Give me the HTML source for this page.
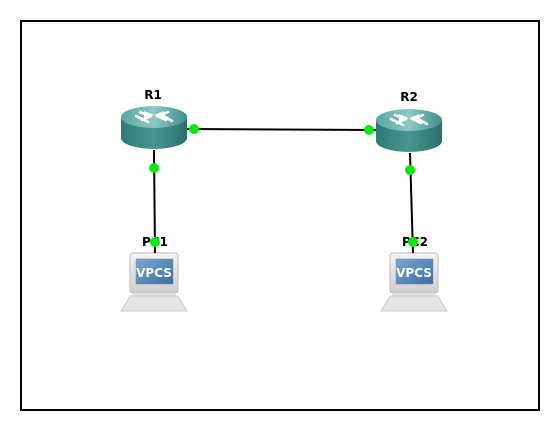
<!DOCTYPE html>
<html><head><meta charset="utf-8"><style>
html,body{margin:0;padding:0;background:#fff;}
svg{display:block;}
text{font-family:"DejaVu Sans","Liberation Sans",sans-serif;font-weight:bold;}
</style></head><body>
<svg width="560" height="432" viewBox="0 0 560 432" xmlns="http://www.w3.org/2000/svg">
<defs>
<linearGradient id="rt" x1="0" y1="0" x2="1" y2="0">
<stop offset="0" stop-color="#5aa7a3"/><stop offset="0.5" stop-color="#8cc8c4"/><stop offset="1" stop-color="#3f8f8b"/></linearGradient>
<linearGradient id="rb" x1="0" y1="0" x2="1" y2="0">
<stop offset="0" stop-color="#2f7a76"/><stop offset="0.5" stop-color="#489591"/><stop offset="1" stop-color="#2a6f6b"/></linearGradient>
<linearGradient id="scr" x1="0" y1="0" x2="1" y2="1">
<stop offset="0" stop-color="#7aa6d4"/><stop offset="1" stop-color="#3a6ea8"/></linearGradient>
<linearGradient id="mon" x1="0" y1="0" x2="0" y2="1">
<stop offset="0" stop-color="#f4f4f4"/><stop offset="1" stop-color="#cfcfcf"/></linearGradient>
<g id="router">
<path d="M-33,-11 L-33,10 A33,11 0 0 0 33,10 L33,-11 Z" fill="url(#rb)"/>
<ellipse cx="0" cy="-11" rx="33" ry="11" fill="url(#rt)"/>
<g stroke="#fff" stroke-width="2.5" fill="none" stroke-linecap="round">
<path d="M-14,-16 L-4,-12 M-12,-8 L-3,-12"/><path d="M14,-16 L4,-12 M12,-8 L3,-12"/>
<path d="M-18,-12 L-6,-6"/><path d="M6,-14 L18,-7"/>
</g>
<path d="M-10,-17 L0,-13 L-10,-9 Z M10,-17 L0,-13 L10,-9 Z" fill="#fff" opacity="0.9"/>
</g>
<g id="pc">
<rect x="-24" y="0" width="48" height="40" rx="3" fill="url(#mon)" stroke="#bbb" stroke-width="1"/>
<rect x="-18" y="6" width="37" height="25" fill="url(#scr)" stroke="#888" stroke-width="0.5"/>
<text x="0" y="24" font-size="12" fill="#fff" text-anchor="middle" font-weight="normal">VPCS</text>
<rect x="-22" y="40" width="44" height="4" fill="#ddd"/>
<path d="M-24,43 L24,43 L33,58 L-33,58 Z" fill="#e4e4e4" stroke="#ccc" stroke-width="1"/>
</g>
</defs>
<rect x="21" y="21" width="518" height="389" fill="#fff" stroke="#000" stroke-width="2"/>
<use href="#router" x="154" y="128"/>
<use href="#router" x="409" y="131"/>
<use href="#pc" x="154" y="253"/>
<use href="#pc" x="414" y="253"/>
<g stroke="#000" stroke-width="2">
<line x1="187" y1="129" x2="376" y2="130"/>
<line x1="154" y1="150" x2="155" y2="253"/>
<line x1="410" y1="153" x2="413" y2="253"/>
</g>
<g fill="#00ee00">
<circle cx="194" cy="129" r="5"/><circle cx="369" cy="130" r="5"/>
<circle cx="154" cy="168" r="5"/><circle cx="410" cy="170" r="5"/>
</g>
<text x="153" y="99" font-size="12" text-anchor="middle">R1</text>
<text x="409" y="101" font-size="12" text-anchor="middle">R2</text>
<text x="155" y="246" font-size="12" text-anchor="middle">PC1</text>
<text x="415" y="246" font-size="12" text-anchor="middle">PC2</text>
<g fill="#00ee00">
<circle cx="155" cy="242" r="5"/><circle cx="413" cy="242" r="5"/>
</g>
</svg>
</body></html>
